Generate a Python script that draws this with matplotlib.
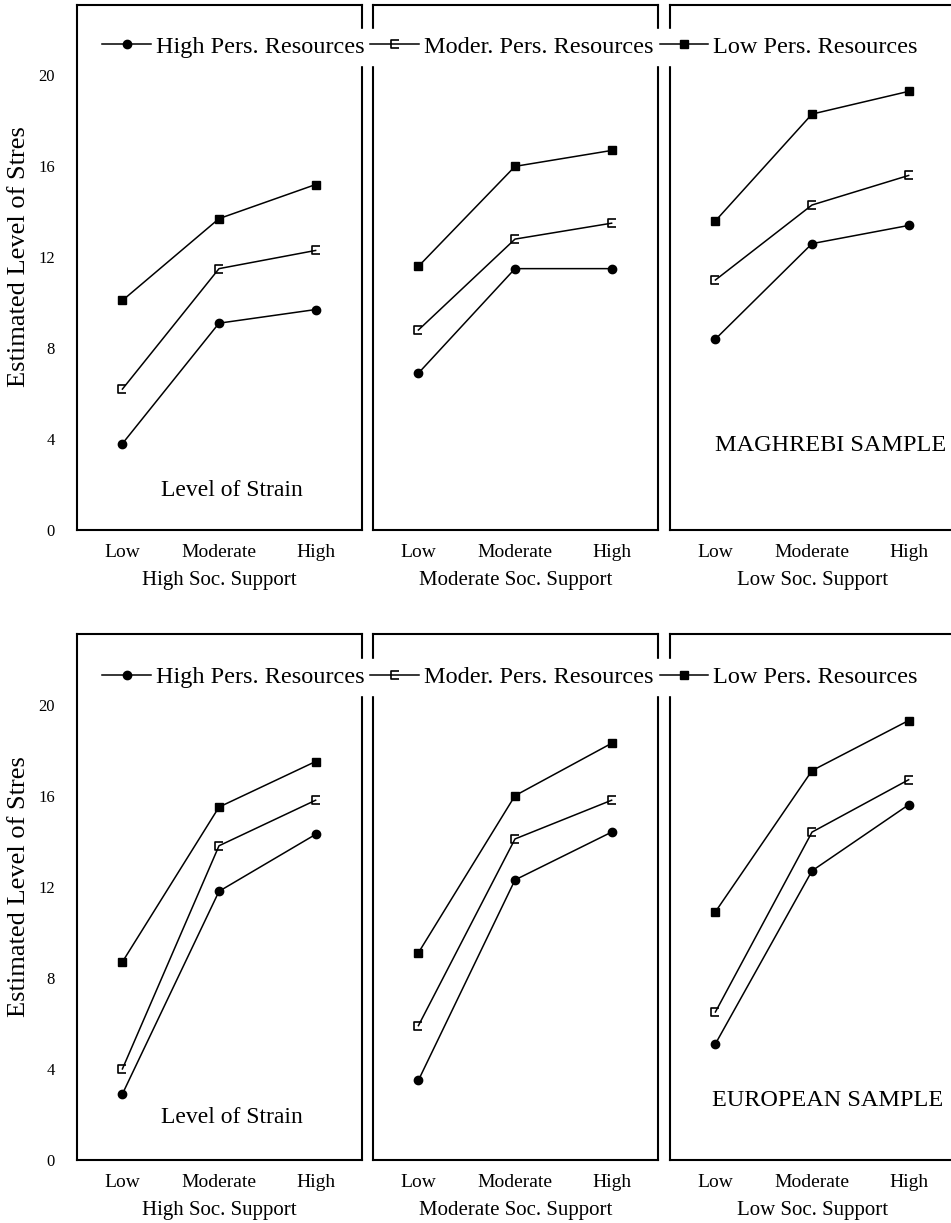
import numpy as np
import matplotlib
matplotlib.use('Agg')
import matplotlib.pyplot as plt
from matplotlib.path import Path

plt.rcParams['font.family'] = ['Liberation Serif', 'DejaVu Serif']

strain = ['Low', 'Moderate', 'High']
support = ['High Soc. Support', 'Moderate Soc. Support', 'Low Soc. Support']
groups = ['High Pers. Resources', 'Moder. Pers. Resources', 'Low Pers. Resources']
yticks = [0, 4, 8, 12, 16, 20]

# values per panel (High / Moderate / Low soc. support), each [Low, Moderate, High] strain
mag_high_pr = [[3.8, 9.1, 9.7], [6.9, 11.5, 11.5], [8.4, 12.6, 13.4]]
mag_mod_pr = [[6.2, 11.5, 12.3], [8.8, 12.8, 13.5], [11.0, 14.3, 15.6]]
mag_low_pr = [[10.1, 13.7, 15.2], [11.6, 16.0, 16.7], [13.6, 18.3, 19.3]]

eur_high_pr = [[2.9, 11.8, 14.3], [3.5, 12.3, 14.4], [5.1, 12.7, 15.6]]
eur_mod_pr = [[4.0, 13.8, 15.8], [5.9, 14.1, 15.8], [6.5, 14.4, 16.7]]
eur_low_pr = [[8.7, 15.5, 17.5], [9.1, 16.0, 18.3], [10.9, 17.1, 19.3]]

# small open bracket used for the "moderate" group
bracket = Path([(0.5, 0.5), (-0.5, 0.5), (-0.5, -0.5), (0.5, -0.5)],
               [Path.MOVETO, Path.LINETO, Path.LINETO, Path.LINETO])

styles = [dict(marker='o', ms=6),
          dict(marker=bracket, ms=6, mfc='none', mew=1.2),
          dict(marker='s', ms=6)]

W, H = 951, 1223
fig = plt.figure(figsize=(W / 100, H / 100), dpi=100)

lefts = [77, 373, 670]
pw = 285
rows = [
    dict(top=5, bottom=530, data=(mag_high_pr, mag_mod_pr, mag_low_pr),
         label='MAGHREBI SAMPLE', lab_xy=(0.0, 3.7), strain_y=1.76, leg_y=47),
    dict(top=634, bottom=1160, data=(eur_high_pr, eur_mod_pr, eur_low_pr),
         label='EUROPEAN SAMPLE', lab_xy=(-0.04, 2.6), strain_y=1.85, leg_y=677),
]

for row in rows:
    h = row['bottom'] - row['top']
    handles = []
    for p in range(3):
        ax = fig.add_axes([lefts[p] / W, (H - row['bottom']) / H, pw / W, h / H])
        x = np.arange(3)
        for g in range(3):
            ln, = ax.plot(x, row['data'][g][p], color='black', lw=1.1,
                          mec='black', mfc=styles[g].get('mfc', 'black'),
                          marker=styles[g]['marker'], ms=styles[g]['ms'],
                          mew=styles[g].get('mew', 1.0), clip_on=False)
            handles.append(ln)
        ax.set_xlim(-0.47, 2.48)
        ax.set_ylim(0, 23.1)
        ax.set_xticks(x)
        ax.set_xticklabels(strain, fontsize=14)
        ax.tick_params(axis='x', length=0, pad=10)
        ax.set_xlabel(support[p], fontsize=15, labelpad=7)
        if p == 0:
            ax.set_yticks(yticks)
            ax.set_yticklabels([str(v) for v in yticks], fontsize=12)
            ax.tick_params(axis='y', length=0, pad=16)
            ax.set_ylabel('Estimated Level of Stres', fontsize=19)
            ax.yaxis.set_label_coords(-0.165, 0.52)
            ax.text(1.13, row['strain_y'], 'Level of Strain', fontsize=17,
                    ha='center', va='center')
        else:
            ax.set_yticks([])
        if p == 2:
            ax.text(row['lab_xy'][0], row['lab_xy'][1], row['label'],
                    fontsize=17.5, ha='left', va='center')
        for s in ax.spines.values():
            s.set_linewidth(1.5)

    leg = fig.legend(handles[:3], groups, ncol=3, fontsize=17.5,
                     loc='center left',
                     bbox_to_anchor=(95 / W, (H - row['leg_y']) / H),
                     frameon=True, fancybox=False, edgecolor='white',
                     facecolor='white', framealpha=1.0, borderpad=0.3,
                     handlelength=2.0, handletextpad=0.2, columnspacing=0.25,
                     borderaxespad=0)

fig.savefig('out.png', dpi=100)
